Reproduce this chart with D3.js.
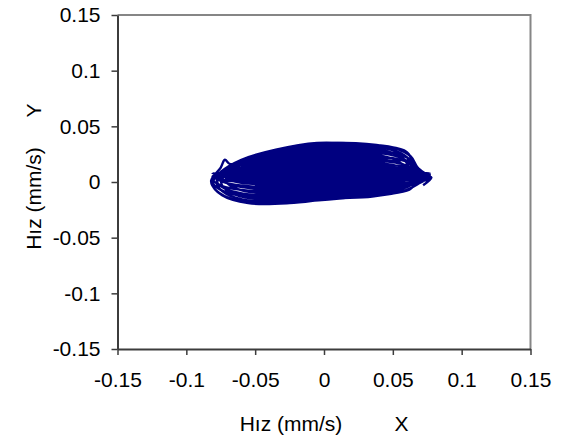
<!DOCTYPE html>
<html>
  <head>
    <meta charset="utf-8">
    <style>
      body { margin: 0; background: #fff; }
      svg { display: block; font-family: "Liberation Sans", Arial, sans-serif; }
    </style>
  </head>
  <body>
    <script src="https://cdn.jsdelivr.net/npm/d3@7"></script>
    <script>
      var width = 580, height = 440;
      var plotLeft = 117.5, plotRight = 530.5, plotTop = 15, plotBottom = 349;

      var tickValues = [-0.15, -0.1, -0.05, 0, 0.05, 0.1, 0.15];
      var tickLabels = ["-0.15", "-0.1", "-0.05", "0", "0.05", "0.1", "0.15"];
      var xTitle = "Hız (mm/s)", xName = "X";
      var yTitle = "Hız (mm/s)", yName = "Y";

      // orbit trace, one row per revolution
      var orbitX = [
        0.072, 0.078, 0.074, 0.066, 0.060, 0.045, 0.015, -0.020, -0.048, -0.068, -0.072, -0.075, -0.082, -0.078, -0.065, -0.040, -0.010, 0.020, 0.045, 0.062, 0.068,
        0.077, 0.068, 0.063, 0.050, 0.025, -0.005, -0.035, -0.060, -0.075, -0.081, -0.074, -0.055, -0.025, 0.005, 0.035, 0.058, 0.068,
        0.0738, 0.0652, 0.0604, 0.0479, 0.0239, -0.0049, -0.0337, -0.0577, -0.0721, -0.0779, -0.0711, -0.0529, -0.0241, 0.0047, 0.0335, 0.0556, 0.0652,
        0.0706, 0.0624, 0.0578, 0.0458, 0.0228, -0.0048, -0.0324, -0.0554, -0.0692, -0.0747, -0.0683, -0.0508, -0.0232, 0.0044, 0.032, 0.0532, 0.0624,
        0.077, 0.068, 0.063, 0.050, 0.025, -0.005, -0.035, -0.060, -0.075, -0.081, -0.074, -0.055, -0.025, 0.005, 0.035, 0.058, 0.068,
        0.0738, 0.0652, 0.0604, 0.0479, 0.0239, -0.0049, -0.0337, -0.0577, -0.0721, -0.0779, -0.0711, -0.0529, -0.0241, 0.0047, 0.0335, 0.0556, 0.0652,
        0.0675, 0.0595, 0.0551, 0.0437, 0.0217, -0.0047, -0.0311, -0.0531, -0.0663, -0.0716, -0.0654, -0.0487, -0.0223, 0.0041, 0.0305, 0.0507, 0.0595,
        0.077, 0.068, 0.063, 0.050, 0.025, -0.005, -0.035, -0.060, -0.075, -0.081, -0.074, -0.055, -0.025, 0.005, 0.035, 0.058, 0.068,
        0.0706, 0.0624, 0.0578, 0.0458, 0.0228, -0.0048, -0.0324, -0.0554, -0.0692, -0.0747, -0.0683, -0.0508, -0.0232, 0.0044, 0.032, 0.0532, 0.0624,
        0.0738, 0.0652, 0.0604, 0.0479, 0.0239, -0.0049, -0.0337, -0.0577, -0.0721, -0.0779, -0.0711, -0.0529, -0.0241, 0.0047, 0.0335, 0.0556, 0.0652,
        0.0675, 0.0595, 0.0551, 0.0437, 0.0217, -0.0047, -0.0311, -0.0531, -0.0663, -0.0716, -0.0654, -0.0487, -0.0223, 0.0041, 0.0305, 0.0507, 0.0595,
        0.077, 0.068, 0.063, 0.050, 0.025, -0.005, -0.035, -0.060, -0.075, -0.081, -0.074, -0.055, -0.025, 0.005, 0.035, 0.058, 0.068,
        0.0706, 0.0624, 0.0578, 0.0458, 0.0228, -0.0048, -0.0324, -0.0554, -0.0692, -0.0747, -0.0683, -0.0508, -0.0232, 0.0044, 0.032, 0.0532, 0.0624,
        0.0738, 0.0652, 0.0604, 0.0479, 0.0239, -0.0049, -0.0337, -0.0577, -0.0721, -0.0779, -0.0711, -0.0529, -0.0241, 0.0047, 0.0335, 0.0556, 0.0652,
        0.0706, 0.0624, 0.0578, 0.0458, 0.0228, -0.0048, -0.0324, -0.0554, -0.0692, -0.0747, -0.0683, -0.0508, -0.0232, 0.0044, 0.032, 0.0532, 0.0624,
        0.0675, 0.0595, 0.0551, 0.0437, 0.0217, -0.0047, -0.0311, -0.0531, -0.0663, -0.0716, -0.0654, -0.0487, -0.0223, 0.0041, 0.0305, 0.0507, 0.0595,
        0.077, 0.068, 0.063, 0.050, 0.025, -0.005, -0.035, -0.060, -0.075, -0.081, -0.074, -0.055, -0.025, 0.005, 0.035, 0.058, 0.068
      ];
      var orbitY = [
        -0.003, 0.004, 0.006, 0.016, 0.027, 0.032, 0.035, 0.032, 0.025, 0.016, 0.020, 0.013, 0.001, -0.008, -0.016, -0.019, -0.017, -0.014, -0.011, -0.007, 0.000,
        0.003, 0.013, 0.023, 0.031, 0.034, 0.035, 0.029, 0.020, 0.009, -0.002, -0.012, -0.019, -0.019, -0.015, -0.013, -0.008, -0.002,
        0.0033, 0.0127, 0.022, 0.0294, 0.0322, 0.0331, 0.0275, 0.0192, 0.0089, -0.0013, -0.0106, -0.0171, -0.0171, -0.0134, -0.0115, -0.0069, -0.0013,
        0.0037, 0.0123, 0.0209, 0.0278, 0.0304, 0.0312, 0.0261, 0.0183, 0.0089, -0.0006, -0.0092, -0.0152, -0.0152, -0.0118, -0.0101, -0.0058, -0.0006,
        0.004, 0.012, 0.0199, 0.0262, 0.0285, 0.0293, 0.0246, 0.0175, 0.0088, 0.0001, -0.0078, -0.0133, -0.0133, -0.0102, -0.0086, -0.0046, 0.0001,
        0.0044, 0.0116, 0.0188, 0.0246, 0.0267, 0.0274, 0.0231, 0.0166, 0.0087, 0.0008, -0.0064, -0.0114, -0.0114, -0.0086, -0.0071, -0.0035, 0.0008,
        0.0047, 0.0113, 0.0178, 0.023, 0.0249, 0.0256, 0.0217, 0.0158, 0.0087, 0.0015, -0.005, -0.0096, -0.0096, -0.007, -0.0057, -0.0024, 0.0015,
        0.0051, 0.0109, 0.0167, 0.0213, 0.0231, 0.0237, 0.0202, 0.015, 0.0086, 0.0022, -0.0036, -0.0077, -0.0077, -0.0053, -0.0042, -0.0013, 0.0022,
        0.0054, 0.0106, 0.0157, 0.0197, 0.0213, 0.0218, 0.0187, 0.0141, 0.0085, 0.0029, -0.0022, -0.0058, -0.0058, -0.0037, -0.0027, -0.0002, 0.0029,
        0.0058, 0.0102, 0.0146, 0.0181, 0.0194, 0.0199, 0.0172, 0.0133, 0.0084, 0.0036, -0.0008, -0.0039, -0.0039, -0.0021, -0.0012, 0.001, 0.0036,
        0.0061, 0.0099, 0.0136, 0.0165, 0.0176, 0.018, 0.0158, 0.0124, 0.0084, 0.0043, 0.0006, -0.002, -0.002, -0.0005, 0.0002, 0.0021, 0.0043,
        0.0065, 0.0095, 0.0125, 0.0149, 0.0158, 0.0161, 0.0143, 0.0116, 0.0083, 0.005, 0.002, -0.0001, -0.0001, 0.0011, 0.0017, 0.0032, 0.005,
        0.0068, 0.0092, 0.0115, 0.0133, 0.014, 0.0142, 0.0128, 0.0108, 0.0082, 0.0057, 0.0034, 0.0018, 0.0018, 0.0027, 0.0032, 0.0043, 0.0057,
        0.0072, 0.0088, 0.0104, 0.0117, 0.0122, 0.0123, 0.0114, 0.0099, 0.0082, 0.0064, 0.0048, 0.0037, 0.0037, 0.0043, 0.0046, 0.0054, 0.0064,
        0.0074, 0.0086, 0.0098, 0.0108, 0.0111, 0.0112, 0.0105, 0.0094, 0.0081, 0.0068, 0.0056, 0.0048, 0.0048, 0.0052, 0.0055, 0.0061, 0.0068,
        0.0075, 0.0085, 0.0094, 0.0101, 0.0103, 0.0104, 0.0099, 0.0091, 0.0081, 0.0071, 0.0062, 0.0056, 0.0056, 0.0059, 0.0061, 0.0066, 0.0071,
        0.0078, 0.0082, 0.0085, 0.0087, 0.0088, 0.0088, 0.0086, 0.0084, 0.008, 0.0077, 0.0074, 0.0072, 0.0072, 0.0073, 0.0074, 0.0075, 0.0077
      ];

      var svg = d3.select("body").append("svg")
          .attr("width", width)
          .attr("height", height);

      var x = d3.scaleLinear().domain([-0.15, 0.15]).range([plotLeft, plotRight]);
      var y = d3.scaleLinear().domain([-0.15, 0.15]).range([plotBottom, plotTop]);

      // top and right frame
      svg.append("path")
        .attr("d", "M" + plotLeft + "," + plotTop + "H" + plotRight + "V" + plotBottom)
        .attr("fill", "none")
        .attr("stroke", "#868686")
        .attr("stroke-width", 2);

      var points = orbitX.map(function (d, i) { return [d, orbitY[i]]; });
      var line = d3.line()
        .x(function (d) { return x(d[0]); })
        .y(function (d) { return y(d[1]); })
        .curve(d3.curveCatmullRom);

      svg.append("path")
        .datum(points)
        .attr("d", line)
        .attr("fill", "none")
        .attr("stroke", "#000080")
        .attr("stroke-width", 2.4)
        .attr("stroke-linejoin", "round");

      var fmt = function (d) { return tickLabels[tickValues.indexOf(d)]; };

      var gx = svg.append("g")
        .attr("transform", "translate(0," + plotBottom + ")")
        .call(d3.axisBottom(x).tickValues(tickValues).tickFormat(fmt)
          .tickSize(6).tickSizeOuter(0).tickPadding(17));

      var gy = svg.append("g")
        .attr("transform", "translate(" + plotLeft + ",0)")
        .call(d3.axisLeft(y).tickValues(tickValues).tickFormat(fmt)
          .tickSize(6).tickSizeOuter(0).tickPadding(11));

      [gx, gy].forEach(function (g) {
        g.select(".domain").attr("stroke", "#3c3c3c").attr("stroke-width", 2);
        g.selectAll(".tick line").attr("stroke", "#3c3c3c").attr("stroke-width", 1.5);
        g.selectAll(".tick text")
          .attr("fill", "#000")
          .style("font-size", "21px")
          .style("font-family", "'Liberation Sans', Arial, sans-serif");
      });

      svg.append("text")
        .attr("x", 291).attr("y", 431)
        .attr("text-anchor", "middle")
        .style("font-size", "21px")
        .text(xTitle);
      svg.append("text")
        .attr("x", 401.5).attr("y", 431)
        .attr("text-anchor", "middle")
        .style("font-size", "21px")
        .text(xName);

      svg.append("text")
        .attr("transform", "translate(41,198.5) rotate(-90)")
        .attr("text-anchor", "middle")
        .style("font-size", "21px")
        .text(yTitle);
      svg.append("text")
        .attr("transform", "translate(41,110.5) rotate(-90)")
        .attr("text-anchor", "middle")
        .style("font-size", "21px")
        .text(yName);
    </script>
  </body>
</html>
